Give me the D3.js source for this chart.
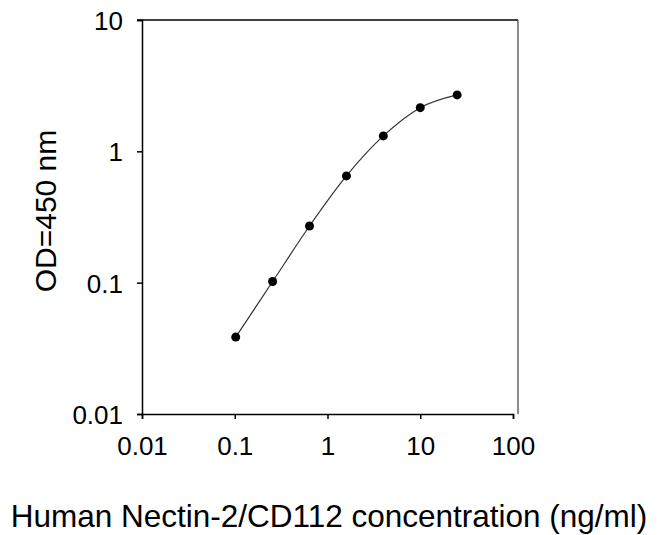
<!DOCTYPE html>
<html>
<head>
<meta charset="utf-8">
<script src="https://cdn.jsdelivr.net/npm/d3@7"></script>
<style>
  body { margin: 0; background: #fff; }
  text { font-family: "Liberation Sans", Arial, sans-serif; fill: #000; }
</style>
</head>
<body>
<svg id="chart" width="660" height="535"></svg>
<script>
// concentration (ng/ml) and OD readings
var conc = [0.1024, 0.256, 0.64, 1.6, 4, 10, 25];
var od = [0.0385, 0.102, 0.27, 0.65, 1.31, 2.15, 2.69];
var xTicks = [0.01, 0.1, 1, 10, 100];
var yTicks = [0.01, 0.1, 1, 10];
var xTitle = "Human Nectin-2/CD112 concentration (ng/ml)";
var yTitle = "OD=450 nm";

var svg = d3.select("#chart");

// plot area edges
var pLeft = 142, pRight = 513, pTop = 20, pBottom = 414;

var x = d3.scaleLog().domain([0.01, 100]).range([pLeft, pRight]);
var y = d3.scaleLog().domain([0.01, 10]).range([pBottom, pTop]);

// frame: top line and right border
svg.append("line")
    .attr("x1", pLeft - 5).attr("x2", 518)
    .attr("y1", pTop).attr("y2", pTop)
    .attr("stroke", "#000").attr("stroke-width", 1.5);
svg.append("line")
    .attr("x1", 518).attr("x2", 518)
    .attr("y1", pTop).attr("y2", pBottom)
    .attr("stroke", "#666").attr("stroke-width", 1.5);

var xAxis = svg.append("g")
    .attr("transform", "translate(0," + pBottom + ")")
    .call(d3.axisBottom(x).tickValues(xTicks).tickSize(5).tickPadding(18)
	  .tickFormat(d3.format("~g")));

var yAxis = svg.append("g")
    .attr("transform", "translate(" + pLeft + ",0)")
    .call(d3.axisLeft(y).tickValues(yTicks).tickSize(5).tickPadding(14)
	  .tickFormat(d3.format("~g")));

[xAxis, yAxis].forEach(function (g) {
    g.select(".domain").attr("stroke", "#000").attr("stroke-width", 1.5);
    g.selectAll(".tick line").attr("stroke", "#000").attr("stroke-width", 1.5);
    g.selectAll(".tick text")
	.style("font-family", "'Liberation Sans', Arial, sans-serif")
	.style("font-size", "26px").attr("fill", "#000");
});
yAxis.selectAll(".tick text").attr("dy", "0.36em");

// curve through the points
var line = d3.line()
    .x(function (d, i) { return x(conc[i]); })
    .y(function (d, i) { return y(od[i]); })
    .curve(d3.curveMonotoneX);

svg.append("path")
    .datum(od)
    .attr("d", line)
    .attr("fill", "none")
    .attr("stroke", "#333")
    .attr("stroke-width", 1.2);

svg.selectAll(".pt")
    .data(od).enter()
    .append("circle")
    .attr("class", "pt")
    .attr("cx", function (d, i) { return x(conc[i]); })
    .attr("cy", function (d) { return y(d); })
    .attr("r", 4.5)
    .attr("fill", "#000");

// axis titles
svg.append("text")
    .attr("x", 329).attr("y", 527)
    .attr("text-anchor", "middle")
    .style("font-size", "31.5px")
    .text(xTitle);

svg.append("text")
    .attr("transform", "translate(56,211) rotate(-90)")
    .attr("text-anchor", "middle")
    .style("font-size", "30px")
    .text(yTitle);
</script>
</body>
</html>
